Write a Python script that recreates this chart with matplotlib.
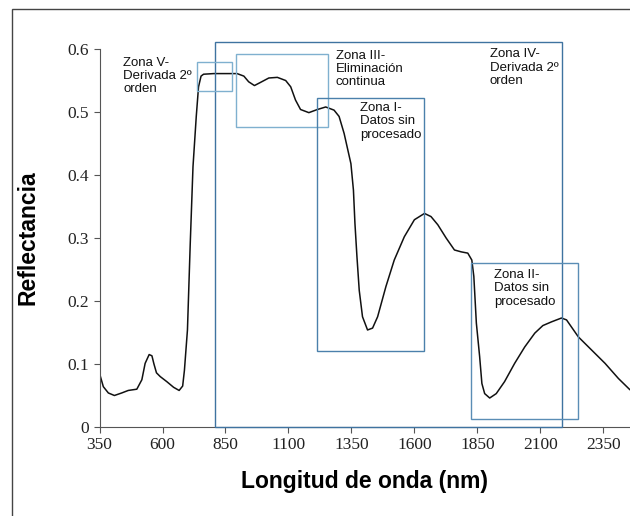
import matplotlib
matplotlib.use("Agg")
import matplotlib.pyplot as plt
from matplotlib.patches import Rectangle

# Spectrum (wavelength nm, reflectance)
wavelength = [350, 365, 385, 409, 438, 464, 498, 518, 531, 547, 558, 566, 576, 591, 617, 644,
              666, 680, 687, 693, 699, 710, 721, 734, 743, 753, 763, 803, 896, 923, 942,
              965, 989, 1022, 1056, 1089, 1109, 1128, 1148, 1181, 1215, 1248, 1281, 1301,
              1321, 1348, 1358, 1364, 1372, 1381, 1394, 1414, 1434, 1454, 1487, 1520,
              1560, 1600, 1640, 1666, 1693, 1726, 1759, 1786, 1812, 1828, 1836, 1846,
              1859, 1868, 1879, 1899, 1925, 1958, 1998, 2038, 2078, 2110, 2145, 2184, 2204,
              2251, 2304, 2357, 2410, 2456]
reflectance = [0.085, 0.064, 0.054, 0.050, 0.054, 0.058, 0.060, 0.075, 0.101, 0.115,
               0.113, 0.100, 0.086, 0.080, 0.072, 0.063, 0.058, 0.065, 0.090, 0.122, 0.154,
               0.290, 0.413, 0.493, 0.540, 0.557, 0.560, 0.561, 0.561, 0.557, 0.548,
               0.542, 0.547, 0.554, 0.555, 0.550, 0.540, 0.519, 0.504, 0.499, 0.504,
               0.508, 0.503, 0.493, 0.466, 0.418, 0.376, 0.323, 0.270, 0.217, 0.175,
               0.154, 0.157, 0.175, 0.223, 0.265, 0.302, 0.329, 0.339, 0.334, 0.321,
               0.300, 0.281, 0.278, 0.276, 0.265, 0.239, 0.165, 0.112, 0.069, 0.053,
               0.046, 0.053, 0.072, 0.101, 0.127, 0.149, 0.161, 0.167, 0.173, 0.170, 0.143,
               0.122, 0.101, 0.077, 0.059]

# Zones
zone_labels = ["Zona IV-\nDerivada 2º\norden", "Zona V-\nDerivada 2º\norden",
               "Zona III-\nEliminación\ncontinua", "Zona I-\nDatos sin\nprocesado",
               "Zona II-\nDatos sin\nprocesado"]
zone_x0 = [809, 736, 892, 1215, 1824]
zone_x1 = [2188, 876, 1258, 1639, 2248]
zone_y0 = [0.0, 0.533, 0.476, 0.120, 0.013]
zone_y1 = [0.611, 0.580, 0.592, 0.523, 0.260]
zone_colors = ["#3f73a0", "#7fb0cf", "#7fb0cf", "#4b80ab", "#5a8db5"]
label_x = [1899, 444, 1287, 1384, 1918]
label_y = [0.601, 0.588, 0.599, 0.516, 0.251]

xticks = [350, 600, 850, 1100, 1350, 1600, 1850, 2100, 2350]
yticks = [0, 0.1, 0.2, 0.3, 0.4, 0.5, 0.6]
ytick_labels = ["0", "0.1", "0.2", "0.3", "0.4", "0.5", "0.6"]

fig = plt.figure(figsize=(6.3, 5.16), dpi=100)
ax = fig.add_axes([0.158, 0.1725, 0.842, 0.7325])

ax.plot(wavelength, reflectance, color="#111111", lw=1.1,
        solid_joinstyle="round", solid_capstyle="round")

for x0, x1, y0, y1, c in zip(zone_x0, zone_x1, zone_y0, zone_y1, zone_colors):
    ax.add_patch(Rectangle((x0, y0), x1 - x0, y1 - y0, fill=False, edgecolor=c,
                           lw=1.0, clip_on=False, zorder=3))
for t, x, y in zip(zone_labels, label_x, label_y):
    ax.text(x, y, t, fontsize=9.5, family="Liberation Sans", va="top", ha="left",
            linespacing=1.15, color="#111111")

ax.set_xlim(350, 2456)
ax.set_ylim(0, 0.6)
ax.set_xticks(xticks)
ax.set_xticklabels([str(v) for v in xticks], family="Liberation Serif", fontsize=12.5)
ax.set_yticks(yticks)
ax.set_yticklabels(ytick_labels, family="Liberation Serif", fontsize=12.5)
ax.tick_params(direction="out", length=4, width=0.8, colors="#555555", labelcolor="#222222")
for s in ["top", "right"]:
    ax.spines[s].set_visible(False)
for s in ["left", "bottom"]:
    ax.spines[s].set_color("#555555")
    ax.spines[s].set_linewidth(0.8)

ax.set_xlabel("Longitud de onda (nm)", family="Liberation Sans", fontsize=16.5,
              fontweight="bold", labelpad=12)
ax.set_ylabel("Reflectancia", family="Liberation Sans", fontsize=16.5,
              fontweight="bold", labelpad=20)

# Outer frame (partially cropped)
fig.patches.append(Rectangle((12 / 630, -0.05), 1.1, 1.05 - 9 / 516,
                             transform=fig.transFigure, fill=False,
                             edgecolor="#444444", lw=1.0))

fig.savefig("out.png", dpi=100)
